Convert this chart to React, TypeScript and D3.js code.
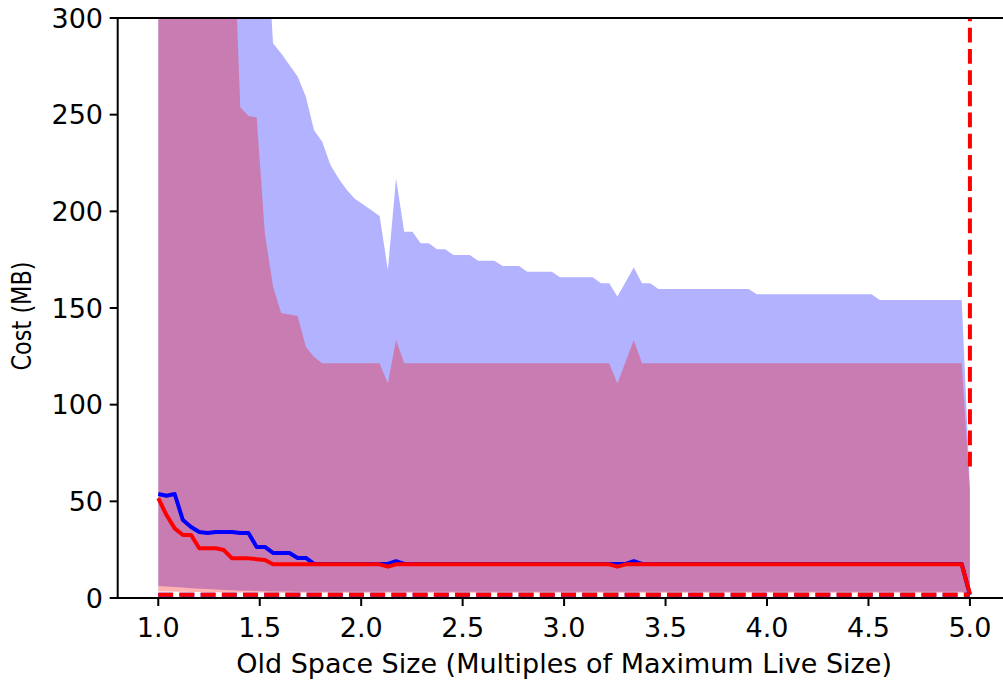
import React from 'react';
import * as d3 from 'd3';

// sample grid: 100 evenly spaced old-space sizes from 1.0 to 5.0
const N_POINTS = 100;
const X_FIRST = 1.0;
const X_LAST = 5.0;
const xs: number[] = d3.range(N_POINTS).map(i => X_FIRST + (i * (X_LAST - X_FIRST)) / (N_POINTS - 1));

// upper edge of blue band
const blueUpper = [
  520, 505, 490, 475, 460, 445, 430, 415, 400, 390,
  380, 370, 362, 359, 287, 281.7, 275.7, 269.7, 259.3, 242,
  236, 224, 217, 211, 206.4, 203.5, 200.5, 197.6, 169.7, 217,
  189.5, 189.5, 183.5, 183.5, 180.4, 180.4, 177.4, 177.4, 177.4, 174.5,
  174.5, 174.5, 171.7, 171.7, 171.7, 168.8, 168.8, 168.8, 168.8, 165.9,
  165.9, 165.9, 165.9, 165.9, 162.8, 162.8, 156, 163.4, 171, 162.8,
  162.8, 159.8, 159.8, 159.8, 159.8, 159.8, 159.8, 159.8, 159.8, 159.8,
  159.8, 159.8, 159.8, 157.1, 157.1, 157.1, 157.1, 157.1, 157.1, 157.1,
  157.1, 157.1, 157.1, 157.1, 157.1, 157.1, 157.1, 157.1, 154.1, 154.1,
  154.1, 154.1, 154.1, 154.1, 154.1, 154.1, 154.1, 154.1, 154.1, 57,
];

// lower edge of blue band
const blueLower = [
  6.2, 6.0, 5.7, 5.4, 5.1, 4.8, 4.6, 4.4, 4.2, 4.0,
  3.8, 3.7, 3.6, 3.5, 3.4, 3.3, 3.3, 3.2, 3.2, 3.2,
  3.2, 3.2, 3.2, 3.2, 3.2, 3.2, 3.2, 3.2, 3.2, 3.2,
  3.2, 3.2, 3.2, 3.2, 3.2, 3.2, 3.2, 3.2, 3.2, 3.2,
  3.2, 3.2, 3.2, 3.2, 3.2, 3.2, 3.2, 3.2, 3.2, 3.2,
  3.2, 3.2, 3.2, 3.2, 3.2, 3.2, 3.2, 3.2, 3.2, 3.2,
  3.2, 3.2, 3.2, 3.2, 3.2, 3.2, 3.2, 3.2, 3.2, 3.2,
  3.2, 3.2, 3.2, 3.2, 3.2, 3.2, 3.2, 3.2, 3.2, 3.2,
  3.2, 3.2, 3.2, 3.2, 3.2, 3.2, 3.2, 3.2, 3.2, 3.2,
  3.2, 3.2, 3.2, 3.2, 3.2, 3.2, 3.2, 3.2, 3.2, 2.0,
];

// upper edge of red band
const redUpper = [
  600, 580, 560, 540, 520, 500, 470, 440, 400, 369,
  253.8, 249.3, 248.6, 188.6, 161, 147.3, 146.6, 145.9, 130, 124.6,
  121.4, 121.4, 121.4, 121.4, 121.4, 121.4, 121.4, 121.4, 111, 133.4,
  121.4, 121.4, 121.4, 121.4, 121.4, 121.4, 121.4, 121.4, 121.4, 121.4,
  121.4, 121.4, 121.4, 121.4, 121.4, 121.4, 121.4, 121.4, 121.4, 121.4,
  121.4, 121.4, 121.4, 121.4, 121.4, 121.4, 111, 122.2, 133.4, 121.4,
  121.4, 121.4, 121.4, 121.4, 121.4, 121.4, 121.4, 121.4, 121.4, 121.4,
  121.4, 121.4, 121.4, 121.4, 121.4, 121.4, 121.4, 121.4, 121.4, 121.4,
  121.4, 121.4, 121.4, 121.4, 121.4, 121.4, 121.4, 121.4, 121.4, 121.4,
  121.4, 121.4, 121.4, 121.4, 121.4, 121.4, 121.4, 121.4, 121.4, 55,
];

// lower edge of red band
const redLower = [
  3.3, 3.3, 3.2, 3.2, 3.1, 3.1, 3.0, 3.0, 2.9, 2.9,
  2.8, 2.8, 2.8, 2.8, 2.7, 2.7, 2.7, 2.7, 2.7, 2.7,
  2.7, 2.7, 2.7, 2.7, 2.7, 2.7, 2.7, 2.7, 2.7, 2.7,
  2.7, 2.7, 2.7, 2.7, 2.7, 2.7, 2.7, 2.7, 2.7, 2.7,
  2.7, 2.7, 2.7, 2.7, 2.7, 2.7, 2.7, 2.7, 2.7, 2.7,
  2.7, 2.7, 2.7, 2.7, 2.7, 2.7, 2.7, 2.7, 2.7, 2.7,
  2.7, 2.7, 2.7, 2.7, 2.7, 2.7, 2.7, 2.7, 2.7, 2.7,
  2.7, 2.7, 2.7, 2.7, 2.7, 2.7, 2.7, 2.7, 2.7, 2.7,
  2.7, 2.7, 2.7, 2.7, 2.7, 2.7, 2.7, 2.7, 2.7, 2.7,
  2.7, 2.7, 2.7, 2.7, 2.7, 2.7, 2.7, 2.7, 2.7, 1.8,
];

// central blue line
const blueMean = [
  53.8, 52.9, 53.8, 40.3, 36.7, 34.1, 33.6, 34.1, 34.1, 34.1,
  33.6, 33.6, 26.4, 26.4, 23.3, 23.3, 23.3, 20.7, 20.7, 17.6,
  17.6, 17.6, 17.6, 17.6, 17.6, 17.6, 17.6, 17.6, 17.6, 19.0,
  17.6, 17.6, 17.6, 17.6, 17.6, 17.6, 17.6, 17.6, 17.6, 17.6,
  17.6, 17.6, 17.6, 17.6, 17.6, 17.6, 17.6, 17.6, 17.6, 17.6,
  17.6, 17.6, 17.6, 17.6, 17.6, 17.6, 17.6, 17.6, 19.0, 17.6,
  17.6, 17.6, 17.6, 17.6, 17.6, 17.6, 17.6, 17.6, 17.6, 17.6,
  17.6, 17.6, 17.6, 17.6, 17.6, 17.6, 17.6, 17.6, 17.6, 17.6,
  17.6, 17.6, 17.6, 17.6, 17.6, 17.6, 17.6, 17.6, 17.6, 17.6,
  17.6, 17.6, 17.6, 17.6, 17.6, 17.6, 17.6, 17.6, 17.6, 1.7,
];

// central red line
const redMean = [
  51.6, 42.9, 36.0, 32.6, 32.6, 25.7, 25.7, 25.7, 24.8, 20.5,
  20.5, 20.5, 20.1, 19.7, 17.4, 17.4, 17.4, 17.4, 17.4, 17.4,
  17.4, 17.4, 17.4, 17.4, 17.4, 17.4, 17.4, 17.4, 16.2, 17.4,
  17.4, 17.4, 17.4, 17.4, 17.4, 17.4, 17.4, 17.4, 17.4, 17.4,
  17.4, 17.4, 17.4, 17.4, 17.4, 17.4, 17.4, 17.4, 17.4, 17.4,
  17.4, 17.4, 17.4, 17.4, 17.4, 17.4, 16.2, 17.4, 17.4, 17.4,
  17.4, 17.4, 17.4, 17.4, 17.4, 17.4, 17.4, 17.4, 17.4, 17.4,
  17.4, 17.4, 17.4, 17.4, 17.4, 17.4, 17.4, 17.4, 17.4, 17.4,
  17.4, 17.4, 17.4, 17.4, 17.4, 17.4, 17.4, 17.4, 17.4, 17.4,
  17.4, 17.4, 17.4, 17.4, 17.4, 17.4, 17.4, 17.4, 17.4, 2.0,
];

// dashed minimum lines (blue under red)
const minX = [1.0, 5.0];
const blueMin = [1.7, 1.7];
const redMin = [1.7, 1.7];

// dashed vertical red line at the right edge
const limitX = [5.0, 5.0];
const limitY = [68, 300];

const xTicks = [1.0, 1.5, 2.0, 2.5, 3.0, 3.5, 4.0, 4.5, 5.0];
const yTicks = [0, 50, 100, 150, 200, 250, 300];
const xLabel = 'Old Space Size (Multiples of Maximum Live Size)';
const yLabel = 'Cost (MB)';

const W = 1003;
const H = 683;
const PL = 117.7;
const PR = 1010.5;
const PT = 18;
const PB = 598;
const FONT = '"DejaVu Sans", sans-serif';
const FS = 27;

export default function App() {
  const x = d3.scaleLinear().domain([0.8, 5.2]).range([PL, PR]);
  const y = d3.scaleLinear().domain([0, 300]).range([PB, PT]);

  const band = (lo: number[], hi: number[]) =>
    d3.area<number>()
      .x((_, i) => x(xs[i]))
      .y0((_, i) => y(lo[i]))
      .y1((_, i) => y(hi[i]))(xs) || '';
  const line = (vals: number[]) =>
    d3.line<number>()
      .x((_, i) => x(xs[i]))
      .y((_, i) => y(vals[i]))(xs) || '';
  const pairLine = (px: number[], py: number[]) =>
    d3.line<number>()
      .x((_, i) => x(px[i]))
      .y((_, i) => y(py[i]))(px) || '';

  const dash = '14.8 6.4';

  return (
    <svg width={W} height={H} style={{ position: 'absolute', left: 0, top: 0, background: '#fff' }}>
      <defs>
        <clipPath id="plotArea">
          <rect x={PL} y={PT} width={PR - PL} height={PB - PT} />
        </clipPath>
      </defs>
      <g clipPath="url(#plotArea)">
        <path d={band(blueLower, blueUpper)} fill="#0000ff" fillOpacity={0.3} />
        <path d={band(redLower, redUpper)} fill="#ff0000" fillOpacity={0.3} />
        <path d={line(blueMean)} fill="none" stroke="#0000ff" strokeWidth={4} strokeLinejoin="round" />
        <path d={line(redMean)} fill="none" stroke="#ff0000" strokeWidth={4} strokeLinejoin="round" />
        <path d={pairLine(minX, blueMin)} fill="none" stroke="#0000ff" strokeWidth={4} strokeDasharray={dash} />
        <path d={pairLine(minX, redMin)} fill="none" stroke="#ff0000" strokeWidth={4} strokeDasharray={dash} />
        <path d={pairLine(limitX, limitY)} fill="none" stroke="#ff0000" strokeWidth={4} strokeDasharray={dash} />
      </g>
      {/* spines */}
      <line x1={PL} x2={PL} y1={PT} y2={PB} stroke="#000" strokeWidth={2} strokeLinecap="square" />
      <line x1={PL} x2={PR} y1={PB} y2={PB} stroke="#000" strokeWidth={2} strokeLinecap="square" />
      <line x1={PL} x2={PR} y1={PT} y2={PT} stroke="#000" strokeWidth={2} strokeLinecap="square" />
      <line x1={PR} x2={PR} y1={PT} y2={PB} stroke="#000" strokeWidth={2} strokeLinecap="square" />
      {/* x ticks */}
      {xTicks.map(t => (
        <g key={'x' + t}>
          <line x1={x(t)} x2={x(t)} y1={PB} y2={PB + 8} stroke="#000" strokeWidth={2} />
          <text x={x(t)} y={636.5} textAnchor="middle" fontFamily={FONT} fontSize={FS} fill="#000">
            {t.toFixed(1)}
          </text>
        </g>
      ))}
      {/* y ticks */}
      {yTicks.map(t => (
        <g key={'y' + t}>
          <line x1={PL - 8} x2={PL} y1={y(t)} y2={y(t)} stroke="#000" strokeWidth={2} />
          <text x={103} y={y(t) + 9.8} textAnchor="end" fontFamily={FONT} fontSize={FS} fill="#000">
            {t}
          </text>
        </g>
      ))}
      <text x={(PL + PR) / 2} y={673} textAnchor="middle" fontFamily={FONT} fontSize={FS} fill="#000">
        {xLabel}
      </text>
      <text transform={`translate(31, 316) rotate(-90) scale(0.83, 1)`} textAnchor="middle" fontFamily={FONT} fontSize={FS} fill="#000">
        {yLabel}
      </text>
    </svg>
  );
}
